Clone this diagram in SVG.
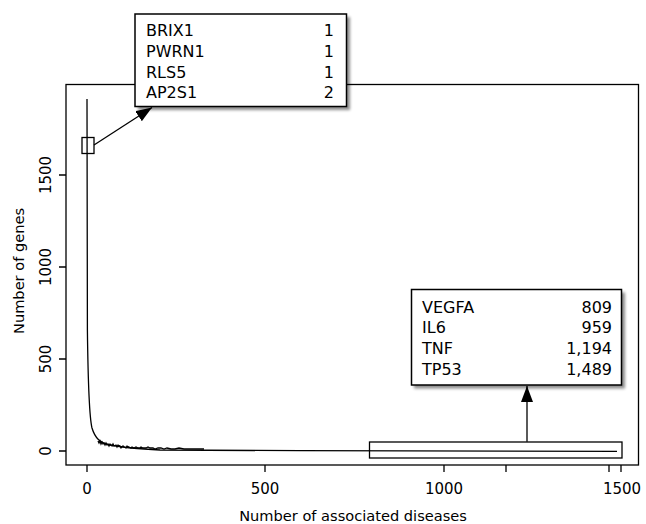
<svg xmlns="http://www.w3.org/2000/svg" width="646" height="524" viewBox="0 0 646 524">
<style>
text{font-family:"DejaVu Sans","Liberation Sans",sans-serif;font-size:14.6px;fill:#000}
.tk{font-size:15px}
.bx{font-size:16px}
.ln{fill:none;stroke:#000;stroke-width:1.3}
.box{fill:#fff;stroke:#000;stroke-width:1.5}
.shadow{fill:#000;opacity:0.45}
.num{text-anchor:end}
.mid{text-anchor:middle}
</style>
<defs>
<filter id="blur" x="-10%" y="-10%" width="120%" height="120%"><feGaussianBlur stdDeviation="1.5"/></filter>
<marker id="arr" viewBox="0 0 16 12" refX="16" refY="6" markerWidth="16" markerHeight="12" markerUnits="userSpaceOnUse" orient="auto"><path d="M0,0 L16,6 L0,12 Z" fill="#000"/></marker>
</defs>
<g id="axes">
<rect class="ln" x="66" y="84.5" width="572.5" height="380.5"/>
<path class="ln" d="M87,465 v7 M265,465 v7 M444,465 v7 M506,465 v7 M609,465 v7 M621,465 v7"/>
<path class="ln" d="M66,451 h-7 M66,359 h-7 M66,267 h-7 M66,175 h-7"/>
<text class="mid tk" x="87" y="494">0</text>
<text class="mid tk" x="265" y="494">500</text>
<text class="mid tk" x="444" y="494">1000</text>
<text class="mid tk" x="622" y="494">1500</text>
<text class="mid" x="353" y="521">Number of associated diseases</text>
<text class="mid tk" transform="translate(51,451) rotate(-90)">0</text>
<text class="mid tk" transform="translate(51,359) rotate(-90)">500</text>
<text class="mid tk" transform="translate(51,267) rotate(-90)">1000</text>
<text class="mid tk" transform="translate(51,175) rotate(-90)">1500</text>
<text class="mid" transform="translate(24,271) rotate(-90)">Number of genes</text>
</g>
<g id="curve">
<path class="ln" d="M87,99 L87.4,330 C88.2,395 89.5,418 92,428 C95,438 100,443 110,445 C125,448 140,449 160,450 L300,450.7 L617,451.3"/>
<path class="ln" stroke-width="0.9" d="M98,441 l1,2 l1,-2 l1,3 l1,-2 l1,2 l1,-1 l1,2 l1,-2 l1,2 l1,-1 l1,2 l1,-2 l2,2 l1,-2 l1,2 l2,-1 l1,2 l1,-2 l2,1 l1,2 l2,-2 l1,1 l2,1 l1,-2 l2,1 l2,1 l1,-1 l2,1 l2,-1 l2,1 l2,0 l1,-1 l2,1 l3,0 l2,-1 l2,1 l3,0 l2,1 l3,-1 l3,0 l3,1 l3,-1 l4,1 l4,0 l4,-1 l5,1 l6,0 l6,0 l8,0"/>
</g>
<g id="connectors">
<line class="ln" stroke-width="1.5" x1="94" y1="145" x2="152" y2="107.5" marker-end="url(#arr)"/>
<line class="ln" stroke-width="1.5" x1="527" y1="441.7" x2="527" y2="386" marker-end="url(#arr)"/>
</g>
<g id="marker-top">
<rect class="ln" x="82" y="137.5" width="12" height="16"/>
</g>
<g id="marker-bottom">
<rect class="ln" stroke-width="1.5" x="369.5" y="442" width="252.5" height="16"/>
</g>
<g id="box-top">
<rect class="shadow" filter="url(#blur)" x="138" y="17" width="212" height="93"/>
<rect class="box" x="135" y="14" width="211.5" height="92.5"/>
<text class="bx" x="146" y="36">BRIX1</text><text class="bx num" x="334" y="36">1</text>
<text class="bx" x="146" y="56.7">PWRN1</text><text class="bx num" x="334" y="56.7">1</text>
<text class="bx" x="146" y="77.5">RLS5</text><text class="bx num" x="334" y="77.5">1</text>
<text class="bx" x="146" y="98">AP2S1</text><text class="bx num" x="334" y="98">2</text>
</g>
<g id="box-bottom">
<rect class="shadow" filter="url(#blur)" x="414" y="292.5" width="211" height="96"/>
<rect class="box" x="411.5" y="289.5" width="210" height="95.5"/>
<text class="bx" x="422" y="312.5">VEGFA</text><text class="bx num" x="612" y="312.5">809</text>
<text class="bx" x="422" y="333">IL6</text><text class="bx num" x="612" y="333">959</text>
<text class="bx" x="422" y="353.5">TNF</text><text class="bx num" x="612" y="353.5">1,194</text>
<text class="bx" x="422" y="374.5">TP53</text><text class="bx num" x="612" y="374.5">1,489</text>
</g>
</svg>
